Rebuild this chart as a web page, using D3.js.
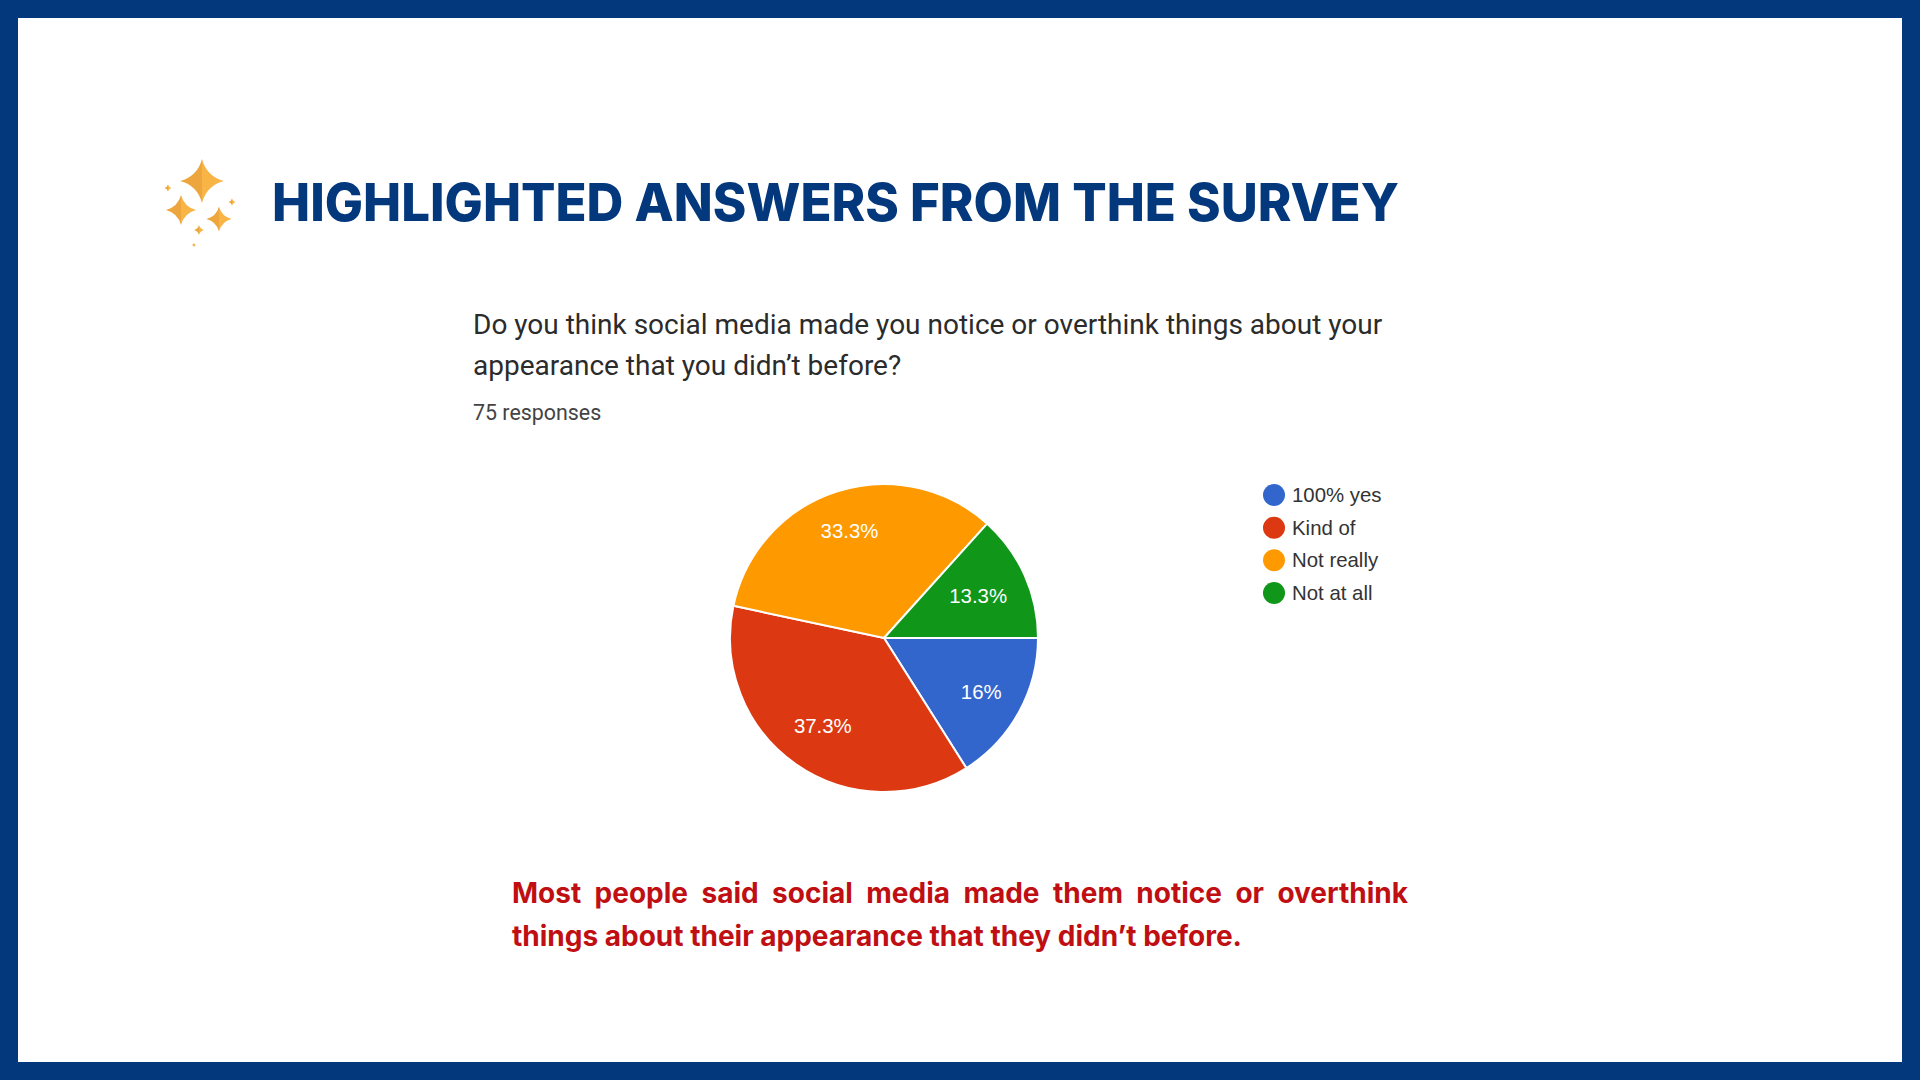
<!DOCTYPE html>
<html>
<head>
<meta charset="utf-8">
<script src="https://cdn.jsdelivr.net/npm/d3@7"></script>
<style>
  html, body { margin: 0; padding: 0; background: #fff; overflow: hidden; }
  svg { display: block; }
</style>
</head>
<body>
<svg id="chart"></svg>
<script>
let w = 1920;
let h = 1080;

let categories = ["100% yes", "Kind of", "Not really", "Not at all"];
let values = [16, 37.3, 33.3, 13.3];
let sliceLabels = ["16%", "37.3%", "33.3%", "13.3%"];
let colors = ["#3366cc", "#dc3912", "#ff9900", "#109618"];

let titleText = "HIGHLIGHTED ANSWERS FROM THE SURVEY";
let questionLines = [
  "Do you think social media made you notice or overthink things about your",
  "appearance that you didn\u2019t before?"
];
let responsesText = "75 responses";
let captionLines = [
  "Most people said social media made them notice or overthink",
  "things about their appearance that they didn\u2019t before."
];

// sparkle icon: [cx, cy, radius]
let sparkles = [
  [202, 181, 22], [181, 210, 15], [219, 219, 12.5],
  [168, 188, 3.5], [232, 202, 3.5], [199, 230, 5], [194, 245, 2]
];

let navy = "#03387c";
let cx = 884, cy = 638, radius = 154;
let labelRadii = [111, 107, 112, 103]; // chart labels don't sit on one circle

let svg = d3.select("#chart").attr("width", w).attr("height", h);

// page frame
svg.append("rect")
  .attr("x", 9).attr("y", 9)
  .attr("width", w - 18).attr("height", h - 18)
  .attr("fill", "#fff")
  .attr("stroke", navy)
  .attr("stroke-width", 18);

// sparkles, two tone like the original icon
function starHalf(r, side) {
  let p = d3.path();
  let k = r * 0.3;
  p.moveTo(0, -r);
  p.quadraticCurveTo(side * k * 0.7, -k * 0.7, side * r, 0);
  p.quadraticCurveTo(side * k * 0.7, k * 0.7, 0, r);
  p.closePath();
  return p.toString();
}

let stars = svg.append("g").selectAll("g")
  .data(sparkles)
  .enter()
  .append("g")
  .attr("transform", d => `translate(${d[0]},${d[1]})`);
stars.append("path").attr("d", d => starHalf(d[2], -1)).attr("fill", "#eda63e");
stars.append("path").attr("d", d => starHalf(d[2], 1)).attr("fill", "#f8b445");

// title
svg.append("text")
  .attr("x", 272).attr("y", 221)
  .attr("font-family", "Inter")
  .attr("font-weight", 800)
  .attr("font-size", 52)
  .attr("textLength", 1127)
  .attr("lengthAdjust", "spacingAndGlyphs")
  .attr("fill", navy)
  .text(titleText);

// question block
svg.selectAll("text.question")
  .data(questionLines)
  .enter()
  .append("text")
  .attr("class", "question")
  .attr("x", 473)
  .attr("y", (d, i) => 334 + i * 41)
  .attr("font-family", "Roboto")
  .attr("font-size", 28)
  .attr("fill", "#2b2b2b")
  .text(d => d);

svg.append("text")
  .attr("x", 473).attr("y", 420)
  .attr("font-family", "Roboto")
  .attr("font-size", 21.4)
  .attr("fill", "#444")
  .text(responsesText);

// pie, first slice starts at 3 o'clock and runs clockwise
let cScale = d3.scaleOrdinal().domain(categories).range(colors);

let pie = d3.pie()
  .sort(null)
  .startAngle(Math.PI / 2)
  .endAngle(Math.PI / 2 + 2 * Math.PI)
  .value(d => d.value);

let rows = categories.map((c, i) => ({ category: c, value: values[i], label: sliceLabels[i] }));

let arc = d3.arc().innerRadius(0).outerRadius(radius);

let pieGroup = svg.append("g").attr("transform", `translate(${cx},${cy})`);

pieGroup.selectAll("path")
  .data(pie(rows))
  .enter()
  .append("path")
  .attr("d", arc)
  .attr("fill", d => cScale(d.data.category))
  .attr("stroke", "#fff")
  .attr("stroke-width", 2);

pieGroup.selectAll("text")
  .data(pie(rows))
  .enter()
  .append("text")
  .attr("transform", (d, i) => {
    let r = labelRadii[i];
    return `translate(${d3.arc().innerRadius(r).outerRadius(r).centroid(d)})`;
  })
  .attr("text-anchor", "middle")
  .attr("dominant-baseline", "central")
  .attr("font-family", "Liberation Sans")
  .attr("font-size", 20.4)
  .attr("fill", "#fff")
  .text(d => d.data.label);

// legend
let legendY = d3.scalePoint().domain(categories).range([495, 593]);

let legend = svg.append("g").selectAll("g")
  .data(categories)
  .enter()
  .append("g")
  .attr("transform", d => `translate(1274,${legendY(d)})`);

legend.append("circle").attr("r", 11).attr("fill", d => cScale(d));

legend.append("text")
  .attr("x", 18)
  .attr("dominant-baseline", "central")
  .attr("font-family", "Liberation Sans")
  .attr("font-size", 20.4)
  .attr("fill", "#333")
  .text(d => d);

// caption, first line is justified so spread the word gaps to fit
let caption = svg.selectAll("text.caption")
  .data(captionLines)
  .enter()
  .append("text")
  .attr("class", "caption")
  .attr("x", 512)
  .attr("y", (d, i) => 903 + i * 43)
  .attr("font-family", "Inter")
  .attr("font-weight", 700)
  .attr("font-size", 28)
  .attr("fill", "#c00f12")
  .text(d => d);

let firstLine = caption.filter((d, i) => i === 0);
let gaps = captionLines[0].split(" ").length - 1;
let extra = (896 - firstLine.node().getComputedTextLength()) / gaps;
firstLine.attr("word-spacing", extra);
</script>
</body>
</html>
